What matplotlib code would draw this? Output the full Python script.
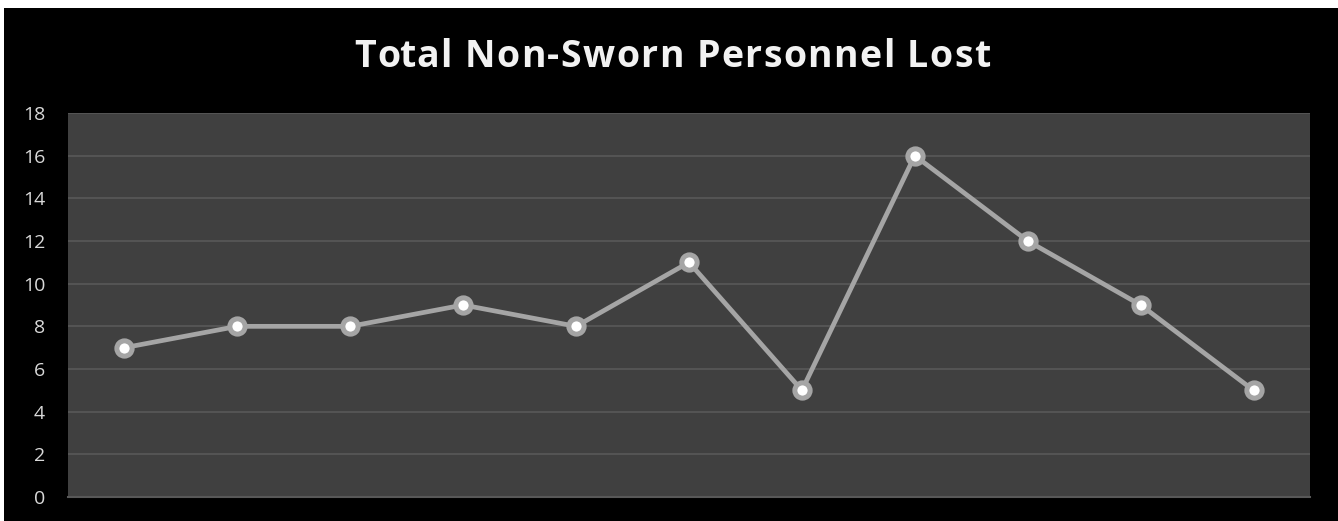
import matplotlib.pyplot as plt
from matplotlib.patches import Rectangle

# personnel lost per period (category labels are not shown on the axis)
periods = list(range(11))
lost = [7, 8, 8, 9, 8, 11, 5, 16, 12, 9, 5]
y_ticks = [0, 2, 4, 6, 8, 10, 12, 14, 16, 18]
title = "Total Non-Sworn Personnel Lost"

W, H = 1338, 521
fig = plt.figure(figsize=(W / 100, H / 100), dpi=100, facecolor="white")

# black chart frame inset from the white margin
fig.patches.append(Rectangle((4 / W, 0), 1 - 4 / W, 1 - 8 / H, transform=fig.transFigure,
                             facecolor="black", edgecolor="none", zorder=-1))

ax = fig.add_axes([68 / W, (H - 497) / H, (1310 - 68) / W, (497 - 113) / H])
ax.set_facecolor("#404040")

ax.plot(periods, lost, color="#a5a5a5", linewidth=3.4, marker="o", markersize=11,
        markerfacecolor="white", markeredgecolor="#a5a5a5", markeredgewidth=3.6,
        solid_capstyle="round", zorder=3)

ax.set_xlim(-0.5, len(periods) - 0.5)
ax.set_ylim(0, 18)
ax.set_yticks(y_ticks)
ax.set_xticks([])
ax.grid(axis="y", color="#545454", linewidth=1.5)
ax.set_axisbelow(True)
for side in ["top", "right", "left"]:
    ax.spines[side].set_visible(False)
ax.spines["bottom"].set_color("#585858")
ax.spines["bottom"].set_linewidth(1.5)
ax.tick_params(axis="y", length=0, pad=16.5, labelsize=14, labelcolor="#d9d9d9")
for lbl in ax.get_yticklabels():
    lbl.set_fontfamily("Open Sans")

# title with a little extra letter spacing, laid out one glyph at a time
renderer = fig.canvas.get_renderer()
tkw = dict(color="#f2f2f2", fontsize=27, fontweight="bold", family="Open Sans",
           va="baseline", ha="left")
spacing = 1.4


def text_width(s):
    if not s:
        return 0
    t = fig.text(0, 0, s, **tkw)
    w = t.get_window_extent(renderer).width
    t.remove()
    return w


x = 672 - (text_width(title) + spacing * (len(title) - 1)) / 2
for i, ch in enumerate(title):
    fig.text(x / W, 1 - 67 / H, ch, **tkw)
    # advance by the prefix width so kerning stays close to the whole string
    x += text_width(title[:i + 1]) - text_width(title[:i]) + spacing

fig.savefig("out.png", dpi=100, facecolor=fig.get_facecolor())
